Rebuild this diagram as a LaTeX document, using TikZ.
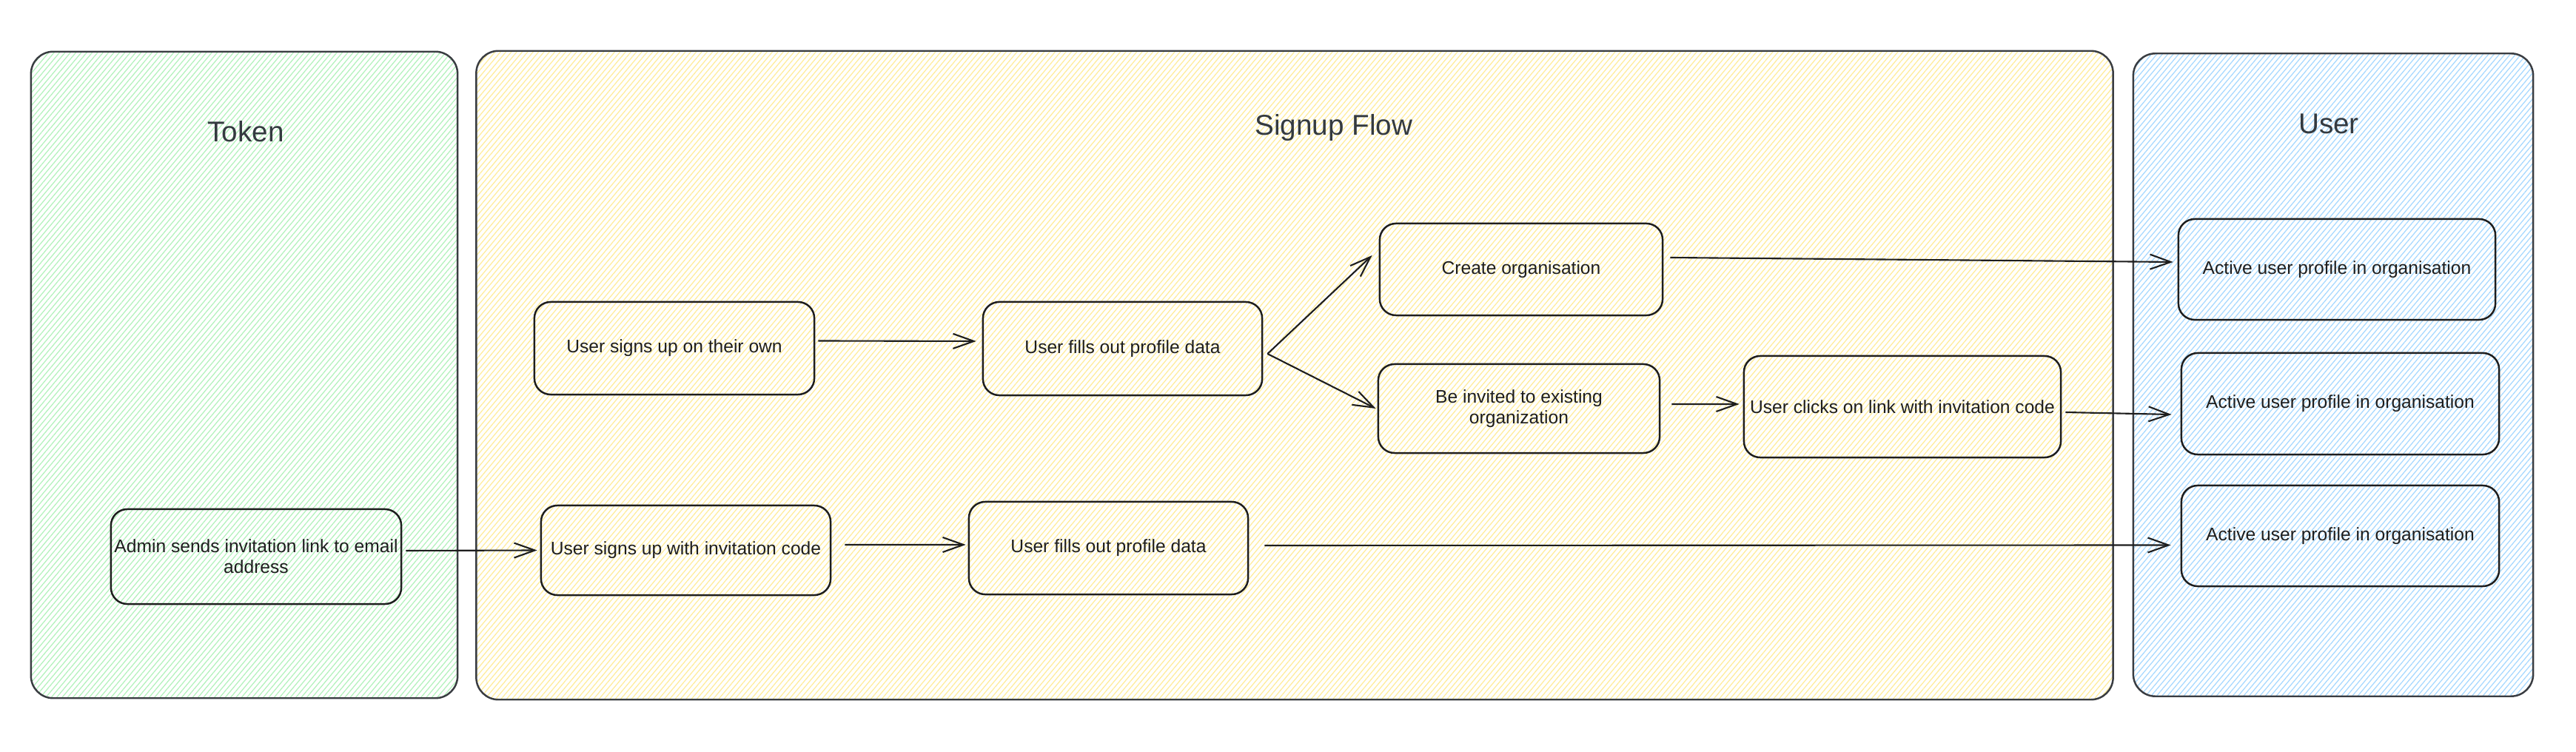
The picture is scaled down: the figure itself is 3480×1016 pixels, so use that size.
\documentclass[tikz,border=0pt]{standalone}
\usepackage{fontspec}
\setmainfont{Liberation Sans}
\usetikzlibrary{arrows.meta,patterns.meta}
\definecolor{linec}{HTML}{3A3D42}
\definecolor{boxc}{HTML}{1E1E1E}
\definecolor{textc}{HTML}{1E1E1E}
\definecolor{titlec}{HTML}{343A40}
\definecolor{hatchg}{HTML}{B2F2BB}
\definecolor{hatchy}{HTML}{FFEC99}
\definecolor{hatchb}{HTML}{A5D8FF}
\tikzset{
  panelbox/.style={draw=linec, line width=0.7pt, rounded corners=0.3cm, inner sep=0pt},
  flowbox/.style={draw=boxc, line width=0.7pt, rounded corners=0.22cm, align=center,
    font=\fontsize{7}{8}\selectfont, text=textc, inner sep=0pt},
  arr/.style={draw=boxc, line width=0.6pt, -{Straight Barb[length=0.28cm,width=0.2cm]}},
  paneltitle/.style={font=\fontsize{11}{13}\selectfont, text=titlec},
  greenhatch/.style={pattern={Lines[angle=50,distance=1.6pt,line width=0.35pt]}, pattern color=hatchg},
  yellowhatch/.style={pattern={Lines[angle=50,distance=1.6pt,line width=0.35pt]}, pattern color=hatchy},
  bluehatch/.style={pattern={Lines[angle=50,distance=1.6pt,line width=0.35pt]}, pattern color=hatchb},
}
\begin{document}
\begin{tikzpicture}[x=0.01cm, y=-0.01cm]
\useasboundingbox[fill=white] (0,0) rectangle (3480,1016);

% panels
\node[panelbox, greenhatch, minimum width=5.76cm, minimum height=8.73cm] (token) at (330,506.5) {};
\node[panelbox, yellowhatch, minimum width=22.10cm, minimum height=8.76cm] (signup) at (1749,507) {};
\node[panelbox, bluehatch, minimum width=5.40cm, minimum height=8.68cm] (user) at (3152,506.5) {};

\node[paneltitle] (tokentitle) at (332,178) {Token};
\node[paneltitle] (signuptitle) at (1802,173) {Signup Flow};
\node[paneltitle] (usertitle) at (3146,167) {User};

% boxes
\node[flowbox, minimum width=3.92cm, minimum height=1.28cm] (admin) at (346,752) {Admin sends invitation link to email\\address};
\node[flowbox, minimum width=3.78cm, minimum height=1.25cm] (own) at (911,470.5) {User signs up on their own};
\node[flowbox, minimum width=3.77cm, minimum height=1.26cm] (fillsA) at (1516.5,471) {User fills out profile data};
\node[flowbox, minimum width=3.91cm, minimum height=1.21cm] (withcode) at (926.5,743.5) {User signs up with invitation code};
\node[flowbox, minimum width=3.77cm, minimum height=1.25cm] (fillsB) at (1497.5,740.5) {User fills out profile data};
\node[flowbox, minimum width=3.82cm, minimum height=1.24cm] (create) at (2055,364) {Create organisation};
\node[flowbox, minimum width=3.80cm, minimum height=1.20cm] (beinv) at (2052,552) {Be invited to existing\\organization};
\node[flowbox, minimum width=4.28cm, minimum height=1.37cm] (clicks) at (2570,549.5) {User clicks on link with invitation code};
\node[flowbox, minimum width=4.28cm, minimum height=1.36cm] (act1) at (3157,364) {Active user profile in organisation};
\node[flowbox, minimum width=4.29cm, minimum height=1.37cm] (act2) at (3161.5,545.5) {Active user profile in organisation};
\node[flowbox, minimum width=4.29cm, minimum height=1.36cm] (act3) at (3161.5,724) {Active user profile in organisation};

% connectors
\draw[arr] ([xshift=0.05cm,yshift=0.08cm]admin.east) -- ([xshift=-0.04cm]withcode.west);
\draw[arr] ([xshift=0.04cm,yshift=0.1cm]own.east) -- ([xshift=-0.08cm,yshift=0.1cm]fillsA.west);
\draw[arr] ([xshift=0.06cm,yshift=-0.07cm]fillsA.east) -- ([xshift=-0.09cm,yshift=0.19cm]create.west);
\draw[arr] ([xshift=0.06cm,yshift=-0.07cm]fillsA.east) -- ([xshift=-0.02cm]beinv.west);
\draw[arr] ([xshift=0.15cm,yshift=0.06cm]beinv.east) -- ([xshift=-0.05cm,yshift=0.035cm]clicks.west);
\draw[arr] ([xshift=0.09cm,yshift=0.16cm]create.east) -- ([xshift=-0.06cm,yshift=0.1cm]act1.west);
\draw[arr] ([xshift=0.05cm,yshift=-0.075cm]clicks.east) -- ([xshift=-0.12cm,yshift=-0.145cm]act2.west);
\draw[arr] ([xshift=0.18cm,yshift=0.075cm]withcode.east) -- ([xshift=-0.03cm,yshift=0.045cm]fillsB.west);
\draw[arr] ([xshift=0.21cm,yshift=0.035cm]fillsB.east) -- ([xshift=-0.13cm,yshift=-0.125cm]act3.west);
\end{tikzpicture}
\end{document}
